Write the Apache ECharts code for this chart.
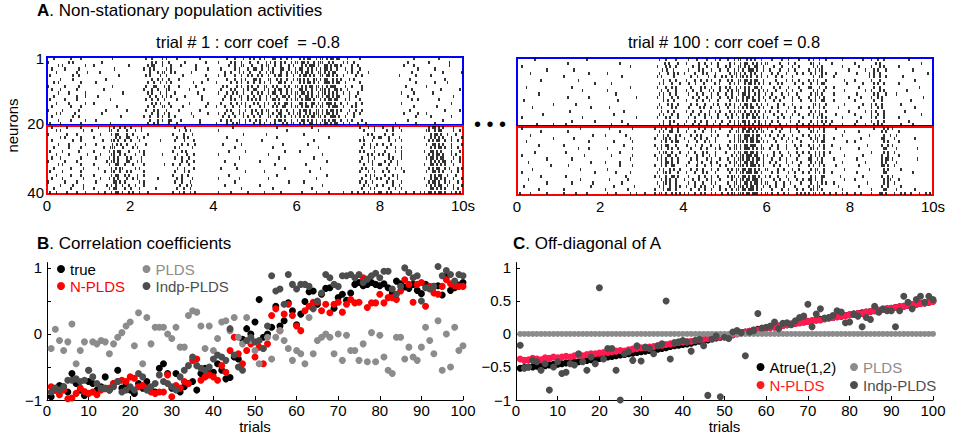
<!DOCTYPE html>
<html><head><meta charset="utf-8">
<script src="https://cdn.jsdelivr.net/npm/echarts@6/dist/echarts.min.js"></script>
<style>
html,body{margin:0;padding:0;background:#fff}
#wrap{position:relative;width:953px;height:442px}
#ca,#cb{position:absolute;left:0;top:0;width:953px;height:442px}
#ca svg path,#ca svg rect{shape-rendering:crispEdges}
</style>
</head><body><div id="wrap"><div id="ca"></div><div id="cb"></div></div>
<script>
// ---- Raster data: one string per neuron, 10 segments (one per second), '|' = spike in that time bin ----
const rasterTrial1 = [
"...|.......|....|... ...........|........ .......|..|....|.|.. ..|..........|...... ......|...|...|..|.| ..|.|...||..|..|.|.. .|.|.||..|.||.|.||.| |...|.....|......... ................|... ........|...........",
"|.........|.|....... ......|............. ..........|.|..|..|. ......|.........|... ..|.....|.|..|...|.. .|...|.|.|..|.|..|.| |.||.|..|.|||..|.|.. ..|.|..|............ .............|...... ...|.........|......",
".....|.|..........|. ..|................| ........|.||...|...| ....|......|........ .......|..|..||...|. ...|.||..|..|...|.|. ..|.|.|||.|..||.|.|| .|....|..|.......... ...........|....|... .............|......",
"..|.....|......|.... ............|....... ......|..|.|.....|.| ...........|.....|.. ...|......|.|...|..| |..|..|.|...||..|..| .||..|.|.|.|.||.|..| ...|..|...|......... ..................|. ......|.............",
"....|.........|....| .....|.............. .........|...|.||..| .|.......|.......... .....|..|...|.|..|.. ..|..|.||...|..|.|.| |.|.||.|..||.|.|.||. ....|.|..|....|..... ...............|.... ..........|........|",
".|..........|..|.... ..............|..... .......|.|....|..|.. .....|..........|... ..|..|....|..|..|.|. .|.|..|..|.||..|..|. .|.||.|.|..||.||.|.| ..|.....|..|........ .........|.......|.. ....|...............",
"......|.....|....... ........|........... ..........|..|.|..|. ...|.............|.. ......|...|..|.|...| |.|...||..|.|..|..|. ||.|.|..||.|.||..|.| .|...|.|............ ..............|..... ...........|........",
"...|.|..........|... ...|................ ........|..|..|..|.| ..........|...|..... .|......|..|.|..|..| ..|.|..|...||.|..|.. .|.|.||.|.|..|||.|.| |..|......|......... .................|.. ......|.....|.......",
"|.......|......|.... ...........|........ .......|...||...|.|. ...|.......|........ ....|.|....|.|..|.|. .|..||..|.|...|.|..| |.|.|.||.||.|.|.|||. ...|..|....|........ ............|....... ..|.................",
"..|...|.......|..... .......|............ ......|...|..|...||. ........|......|.... ...|....|.|...|.|..| |...|.|..|.||..|.|.. .||.|..|.|.|||.|..|| .|..|......|........ ...............|.... .........|........|.",
".....|....|.......|. ................|... ........|.|...|..|.. .|..........|....... ..|...|..|.|..|...|. .|.|..|.||..|..|.|.| |.||.|.|..|.||.|.|.| ..|..|...|.......... ..........|.....|... .....|..............",
"...|..........|...|. ....|............... .........|..|..|.|.| ......|.......|..... .....|..|...||..|..| ..|..|.|..|..||.|..| .|..||.|.||.|.||.|.| |....|..|........... .............|...... ...............|....",
".|......|.....|..... ..........|......... .......|..|..|..|... ..|...........|..... ....|...|.|..|..|.|. |.|..|..||.|...|.|.| |.|.|||.|..|.|.||.|| ...|.|....|......... ...............|..|. ........|...........",
"....|.....|.......|. ..|................. ..........|.|.|...|. ........|........|.. ...|....|..|.|.|...| .|..|.|..|.|..||.|.. .||.|..||.|.|.|||.|. .|..|...|..|........ ..........|......... ..............|.....",
"..|........|....|... .............|...... ........|..|...||..| .....|..........|... .|...|...|..|..|.|.. ..|.|...|.|..||..|.| |.|.||.|.|.||..|.||| ..|...|.|........... ................|... .......|............",
"|......|.......|.... ........|.........|. .......|...|.|...|.. ...|.........|...... ......|.|...|..|..|. |..|.||...|.|..|..|. .|.||.|..||.|.|.||.| .|...|..|..|........ ..............|..... ...........|......|.",
"....|.|......|...... ......|............. ..........|..|..|.|. .........|.......|.. ..|..|...|..|.|...|. .|.|..|.|..||...|.|. ||..|.|.|||.|.||.|.| ....|..|..|......... ...........|......|. ..|.................",
"..|.........|..|.... ...............|.... ......|..|...|.|..|. .|........|......... ....|..|..|...|.|..| ..|...||..|.|.|..|.| .|.|.|.||.||.|..|||. |..|...|............ .................|.. ....|.........|.....",
".....|.....|......|. ...|................ .........|...|.|..|| ....|........|...... ...|..|.|...|..|.|.. |.|..|...|.||.|..|.. |.||.|.|.|..||.|.||. .|..|.|....|........ .............|...... ..........|.........",
".|....|.........|... ..........|......... ........|..|.|....|. ..|..........|...... .|....|..|.||..|...| ..|.|..|.|...|.|.||. .|.|..||.|.|.||.|.|| ..|..|...|...|...... .......|.........|.. ......|.............",
"..|......|......|... ....|....|.|..|.|.. |....|.............. .|....|............. .........|.......... ..........|......... .......|............ ..........|...|..|.. .|....|..|.......... ...|.||.|.|....|....",
"....|.|..........|.. .|.......||..|...|. ..|..|.............. ...|..|.|.......... ..|................. ...............|.... ..........|......... ............|....|.. ...|..|...|......... ..||..|.||.....|..|.",
"|........|....|..... .....|....|.||...|. .|......|........... |....|...|......... ..............|..... .....|.............. ...|................ .............|.|... ..|...|............. ....|.||.|..|...|...",
"......|.|.......|... ..|.........|.|..|| ...|..|............. ..|..|.|........... ......|............. ..........|......... ...............|.... ...........|....|.| |...|....|.......... .|..|.|.|.|...|....|",
"..|.........|...|... ......|...||.|..|.. |...|.........|..... .|...|...|........ ...........|........ ...|................ ........|........... ..........|.|...|... ....|..|..|......... ...|.|.||..|..|..|..",
".....|....|.......|. ...|.......|.|.|..|. ..|....|............ ....|..|..|........ ....|........|...... .............|...... .....|.............. ............|..|..|. .|...|.............. ..|..||.|.|...|....|",
"...|......|.....|... .......|..|||...|... .|.|................ .|.|.....|......... ..........|......... ........|........... ..........|......... ...........|...|.|.. ...|...|..|......... ....|.|.||.|..|..|..",
".|.....|.......|.... ..|......|.|.||...| ....|.|............. |...|.|............ .......|.......|.... ..............|..... .|.................. ..........|.|....|.. ..|....|..|......... .|..||.|.|....|...|.",
"....|.....|........| .....|....||..|.|.. ..|...|........|.... ..|...|..|........ ..|................. ......|............. ............|....... .............|.|..| .|..|.....|......... ...|.|.||.|...|.|...",
"..|...|.........|... ...|.....|.|.|...|. |....|.............. .|..|..|.......... ............|....... ...........|........ ........|........... ...........|..|..|.. ....|.|...|......... ..|.||.|.||....|..|.",
"|.......|.....|..... ........|.||.|...|| ...|.|.............. ....|.|..|........ .....|.............. ..|................. ..............|..... ..........|...|.|... ..|..|..|........... ....|.|.|.||..|...|.",
".....|.|........|... ..|......|..||..|.. .|....|.........|... |..|...|.......... ..........|......... .........|.......... ....|............... ............|...|..| |...|...|........... .|..||.|.|.|...|....",
"...|.......|.....|.. ....|.....|.|.||... ..|.|............... ..|..|...|........ ...|.......|........ ..............|..... ...........|........ ...........|.|..|... ...|...|..|......... ...|.|.||..|.|...|.|",
".|.....|........|... .......|..||..|..|. |.....|............. .|...|.|.......... ...............|.... ....|............... ......|............. ..........|...|..|.. .|..|......|........ ..|..||.|.|...|..|..",
"....|......|....|... ..|.......|.||..|.| ...|..|............. |...|..|........... .......|............ ..........|......... ..............|..... .............|.|.|.. ..|...|.|........... ....|.|.||..|...|...",
"..|....|.........|.. .....|...|.|.|...|. .|.|.........|...... ..|.|....|......... ..|.........|....... ......|............. .........|.......... ...........|...|..|. |...|...|........... .|..|.||.|.|...|...|",
"|.......|.....|..... ...|.......||.|.|.. ....|.|............. .|..|...|.......... ..........|......... ................|... ...|................ ..........|..|..|... ...|..|...|......... ...|.||.|..|.|...|..",
"......|.....|....|.. ........|.|.|..|..| ..|...|............. ...|..|.|......... .....|.............. ..|................. ............|....... ............|.|...|. .|....|..|.......... ..|.|.|.||..|..|...|",
"...|.......|.....|.. ..|......|.||...|.. |...|.......|....... ..|..|..|.......... .............|...... ........|........... .......|............ ...........|...|.|.. ....|..|..|......... ....||.|.|.|...|.|..",
".|..|....|....|...|. ....|..|..|.||.|..| .|..|...|........... |..|.|..|.|........ ..|.....|.......|... ....|.......|....... ..|......|.....|.... ..|...|..|..|.|..|.| |..|.|...|..|...|..| .|.||.|.||.|..|.|.|."
];
const rasterTrial100 = [
"........|........... .............|...... .................... ........|..|....|... ..|...|....|...|.|.. .|..|.||..|.|.|..|.. ..|....|..|....|.... |.|..|..|.......|... ......|...|..|..|... ........|...........",
".................... ....|............... .........|.......... ..........|.|...|.. .|.....|..|..|..|... ..|.|..|.||..|.|.|.| |.....|...|..|...... .||..|.....|........ ..|.........|.|..... ..............|.....",
"..|................. .................... ..............|..... .......|...|.|..|... ....|..|...|....|... |.|...||.|.|..||..|. ...|...|....|..|.... ..|.|.|.........|... ....|.....|...|.|... ...|................",
"..............|..... .......|............ .................... .........|.|..|.... ..|....|.|...|...|.. .|..|.|.|..|||.|..|. .|....|...|..|...... |..|.||............| .......|...|.|...|.. ..........|.........",
"......|............. ..............|..... ...|................ ........|...|..|.|.. |....|...|.|...|.... ..|.||.|.|..|.|..|.. ..|..|...|....|..|.. .|.|..|.|....|...... ...|.....|.|..|..... .................|..",
".................... ..|................. ..........|......... .......|.|.....|.... ...|..|....|..|..|. |..|.|.||.|.|..|.|.. |...|..|....|....... ..|..||.....|....... .........|.|..|..|.. .....|..............",
"...........|........ .........|.......... .................... ..........|..|..|... .|...|..|..|.|...|.. .|.|..||.||.|.||..|. ....|....|..|..|.... |.|.|...|........|.. ..|.......|...|..... ...........|........",
".................... .................|.. .....|.............. ........|.|...|...|. ..|..|...|....|.|.. ..|.|.|..|.||.|.|.|. .|...|.|.....|...|.. .|..|.||..........|. ......|....|.|..|... ...|................",
"....|............... ......|............. ..............|..... .......|...|..|.|... ...|....|.|..|...|.. |.|..|.|.|.|..||.|.. ...|..|...|....|.... ||...|..|...|....... ....|......|..|..... .............|......",
".................... ...........|........ ...|................ .........|..|...|... .|..|...|...|.|..|.. .|.|.||..|.|.|..|.|. |...|....|..|...|... ..|.|..|.........|.. .......|..|...|.|... .......|............",
"..........|......... .................... .......|............ ........|.|..|..|... ..|...|..|...|..|... |..|..|.||.|..|.|..| ..|....|..|...|..... .|.||.|.....|....... ...|.......|.|...|.. ..|.................",
".................... ....|.........|..... .................|.. .......|..|...|..|.. ....|..|...|.|...|.. .|.|.|..|.||.|..|.|. .|..|...|...|..|.... |..|.|.|...........| .....|....|..|.|.... ...............|....",
"...|................ .................... ........|........... ..........|.|..|.... .|....|..|..|...|... ..|..||.|.|..||.|..| ...|..|.....|...|... .|.|..||....|....... ..|........|...|.... .........|..........",
".................|.. ........|........... .................... ........|...|.|..|.. ...|..|...|...|.|... |.|.|..|.||.|..|.|.. |....|..|...|....... ..||.|..|........|.. ......|...|.|..|.... ....|...............",
".......|............ ...............|.... ....|............... .......|.|....|.|... ..|....|.|..|...|.. .|..|.|.|.|.||..|.|. ..|..|....|..|..|... |.|..|.|......|..... ....|.....|..|.|.... ...........|........",
".................... .....|.............. ...........|........ .........|..|..|.... .|..|...|...|..|.|.. ..|.|.||.|..|.|.|..| .|...|...|...|...... .|.|.|..|..........| .......|..|.|...|... ......|.............",
"............|....... .................... ......|............. ........|.|...|..|.. ...|...|..|.|...|... |..|.|..|.||.|.|..|. ...|...|....|..|.... |.|..||......|...... ..|.......|..|..|... ..............|.....",
"..|................. ...........|........ .................|.. .......|...|.|...|.. ..|..|....|..|..|... .|.|..|.|.|..||.|.|. |....|..|..|.....|.. ..|.|.|.|.......|... .....|....|.|...|... ...|................",
".................... ......|..........|.. ..........|......... ..........|..|.|.... .|...|..|..|...|..|. ..|.|.|.||.|..|.|..| ..|..|.....|...|.... .|..|.|.|..|........ ...|......|..|..|... ........|...........",
".........|.......|.. ...|................ .....|.......|...... ........|.|..|...|.. |...|..|...|..|..|.. .|..|.||.|.|.|..||.| .|....|..|....|..|.. |.|.|..|..|.....|... ..|....|...|.|.|.... ....|.....|.........",
"..|................. ..........|......... ....|..........|.... ......|..|.|..|..|.. ..|....|..|..|...|.. ...|..|.||.||.|.||.. |...|..|...|..|..... |.|..|.|.....|...... ...........|....|.|. |...................",
"...........|........ ....|............... .........|.......... ........|.|..||..|.. .|...|...|...|.|.... ..|..||.|.||.|.|.||. ..|...|....|...|.... .||.|..|.........|.. ....|..........|.|.. ...|................",
"......|............. ................|... ..|.........|....... .......|..|.|...|.|. ...|..|.|....|..|... .|..|.||.|||.|.||..| .|...|..|...|....|.. |..|.|.|........|... .........|......|..| ..|.................",
".................|.. .......|............ ..............|..... ......|...||.|..|... |....|..|..|...|.... ....|.||.||.||.|.|.. ...|...|..|...|..... .|.||..|....|....... .....|.........||... .|.........|........",
"....|............... ..............|..... ......|........|.... .........|.|..|.||.. ..|...|...|.|..|.... ..|.|.|||.|.||.||.|. |...|....|..|...|... ..|.|.||..........|. ..|.............|.|. ...|................",
"..........|......... ..|................. ...........|........ ......|..|.||...|... .|...|..|...|...|.. .|..||.|.||.|||..|.. ..|..|...|...|..|... |.|..|.|...|........ ........|......|..|. |...................",
".................... .........|....|..... ...|...........|.... .......|.|..|.|..|.. ...|....|..|...|.|.. ..|.||.|.|||.|.|.||. .|...|...|....|..... .||.|..|.......|.... ....|...........||.. ..|.........|.......",
"........|........... ...|................ .........|.......... ........|.||..|...|. ..|..|...|.|...|.... |...|.||.||.||.|.|.. ...|..|...|...|..|.. |..|.|.|..|......... ..........|.....|.|. .|..................",
"..|................. ............|....... .....|.........|.... ......|..|..||..|... .|....|..|..|..|.... ...|.|.||.|||.||..|. |..|...|...|...|.... .|.|.|.|.........|.. ......|........|..|. ...|................",
"..............|..... ......|............. ..............|..... .......|.|.|..|..|.. ...|..|....|.|...|.. .|..|.|||.||.|.||.|. ..|...|..|....|..... ||..|.|.....|....... ...|...........|.||. |...........|.......",
".....|.............. ...............|.... ..|......|.......... .........|.||.|..|.. ..|...|.|...|..|... ..|.||.|.||.||.|..|. .|..|....|..|...|... .|.|.||.........|... .......|.......|.|.. ..|.................",
"................|... ....|.............. .........|.....|.... ......|..|.|..||.... .|....|...|..|...|.. |...|.|||.|.|||.|.|. ...|..|...|....|.... |.|..|.|.....|...... ....|..........||.|. .|..................",
".......|............ ..........|......... ...|................ ........|.|..|.|..|. ...|..|..|...|..|... .|.|.||.||.||.|.|..| |....|..|...|..|.... .|.||..|.........|.. .........|......|.|. ....|...............",
"..|................. .................|.. .......|......|..... .......|..||.|...|.. .|...|...|.|...|.... ..|..|.||.|||.||.|.. ..|..|....|..|...|.. |..|.|.|...|........ ...|............||.. ..........|.........",
"...........|........ ...|................ ............|....... ......|.|..|..||.|.. ..|....|..|..|..|... .|.||.|.||.|.||.|..| .|...|...|...|...... .|.|..||.......|.... ......|........|..|. |...................",
".....|.............. ..........|......... ....|........|...... .........|.|.|..|... |...|..|...|.|...|.. ...|.|.||.||.|||.|.. ...|..|...|...|..|.. ||.|..|..........|.. ..|.............|.|| ...|................",
"..............|..... ......|.........|... ..........|......... .......|..||.|..|... ..|..|...|...|.|.... .|..||.|.||.|.||.|.| |...|...|..|....|... .|..|.|.|...|....... ........|.......|.|. .|..................",
"...|................ ...............|.... ......|.........|... ........|.|..|..|.|. .|...|..|.|...|..|.. ..|.|.|||.|.||.|..|. .|..|...|....|...... |.|.||........|..... ....|..........|..|. ....|...............",
"..........|......... ..|................. ..|..........|...... ......|...|.||..|... ...|...|..|..|...|.. |..|.||.||.|||.|.|.. ..|....|..|...|..|.. .||.|.|.........|... ..........|.....||.. ..|........|........",
".|....|.......|..... ..|.....|....|...... ...|...|......|..|.. .|....|.||.|..|.|.|. |.|..|..|.|..|.|..|. .|.||.|||.||.|||.|.| |.|..|..|.|...|.|.|. |.||.|.|..|..|..|.|. ..|..|....|...||.|.. .|..|.|..|...|..|.|."
];

// ---- Panel B: correlation coefficients per trial ----
const trials = Array.from({length: 100}, (_, i) => i + 1);
const bTrue = [-0.95,-0.85,-0.78,-0.8,-0.88,-0.6,-0.75,-0.85,-0.93,-0.72,-0.75,-0.85,-0.8,-0.65,-0.85,-0.75,-0.55,-0.82,-0.78,-0.85,
-0.9,-0.75,-0.82,-0.72,-0.85,-0.88,-0.52,-0.45,-0.6,-0.82,-0.6,-0.88,-0.8,-0.75,-0.72,-0.85,-0.6,-0.52,-0.6,-0.58,
-0.45,-0.55,-0.68,-0.66,-0.35,-0.38,-0.08,0.08,0.0,0.18,0.52,-0.05,0.0,0.1,0.42,0.12,0.2,0.47,0.35,0.14,
0.3,0.49,0.64,0.65,0.45,0.6,0.69,0.7,0.39,0.55,0.6,0.51,0.62,0.75,0.78,0.73,0.75,0.78,0.75,0.73,
0.76,0.7,0.62,0.8,0.76,0.71,0.69,0.75,0.66,0.61,0.75,0.7,0.72,0.73,0.59,0.88,0.66,0.7,0.74,0.78];
const bNPLDS = [-0.8,-0.85,-0.92,-0.85,-0.98,-0.97,-0.9,-0.82,-0.87,-0.9,-0.88,-0.92,-0.85,-0.83,-0.82,-0.75,-0.72,-0.7,-0.72,-0.65,
-0.67,-0.8,-0.78,-0.82,-0.88,-0.9,-0.88,-0.88,-0.62,-0.95,-0.78,-0.82,-0.72,-0.75,-0.4,-0.38,-0.7,-0.65,-0.62,-0.65,
-0.7,-0.48,-0.58,-0.25,-0.05,-0.3,-0.45,-0.25,-0.15,-0.35,-0.2,-0.45,-0.15,0.28,0.38,0.05,0.3,0.45,0.28,0.12,
0.05,0.35,0.42,0.48,0.48,0.35,0.45,0.32,0.45,0.48,0.33,0.45,0.52,0.47,0.48,0.85,0.4,0.47,0.47,0.6,
0.47,0.55,0.55,0.52,0.65,0.82,0.75,0.48,0.75,0.78,0.42,0.72,0.62,0.6,0.72,0.82,0.76,0.73,0.72,0.72];
const bPLDS = [-0.22,0.07,-0.1,-0.25,-0.12,0.15,-0.45,-0.25,-0.12,-0.55,-0.12,-0.15,-0.1,-0.12,-0.3,-0.15,-0.05,0.02,0.12,0.18,
-0.18,0.32,-0.45,0.25,-0.15,0.1,0.1,0.1,0.0,-0.07,0.1,-0.2,-0.2,0.28,0.35,0.33,0.12,-0.22,0.12,-0.25,
-0.07,0.18,0.2,0.05,0.25,-0.05,-0.15,0.25,-0.1,-0.25,-0.45,-0.22,-0.05,-0.38,-0.05,0.05,-0.1,-0.22,-0.4,-0.25,
-0.3,-0.45,0.25,-0.3,-0.1,-0.05,0.0,-0.05,-0.3,0.0,-0.4,-0.02,-0.25,-0.25,-0.4,-0.15,-0.42,0.02,-0.42,-0.02,
-0.35,-0.55,-0.6,-0.05,-0.05,-0.38,-0.2,-0.35,-0.4,-0.2,0.1,-0.1,-0.3,0.2,-0.55,0.0,-0.5,0.1,-0.25,-0.18];
const bIndp = [-0.88,-0.82,-0.85,-0.8,-0.7,-0.7,-0.68,-0.72,-0.7,-0.55,-0.65,-0.75,-0.82,-0.82,-0.85,-0.8,-0.72,-0.88,-0.85,-0.8,
-0.85,-0.6,-0.65,-0.85,-0.8,-0.75,-0.62,-0.72,-0.75,-0.8,-0.85,-0.65,-0.55,-0.48,-0.35,-0.48,-0.52,-0.55,-0.5,-0.38,
-0.32,-0.35,-0.4,0.08,-0.32,-0.5,-0.55,-0.1,-0.05,-0.12,-0.1,-0.22,0.12,0.88,0.65,0.68,0.45,0.9,0.75,0.68,
0.75,0.75,0.72,0.38,0.5,0.62,0.9,0.85,0.75,0.72,0.88,0.88,0.9,0.85,0.9,0.78,0.83,0.88,0.92,0.85,
0.95,0.95,0.68,0.6,0.72,1.0,0.93,0.85,0.88,0.5,0.7,0.68,0.72,1.02,0.88,0.96,0.9,0.8,0.9,0.88];

// ---- Panel C: off-diagonal of A per trial ----
const cTrue = [-0.52,-0.51,-0.5,-0.5,-0.49,-0.48,-0.48,-0.47,-0.46,-0.46,-0.45,-0.44,-0.43,-0.43,-0.42,-0.41,-0.4,-0.39,-0.38,-0.37,
-0.36,-0.35,-0.34,-0.33,-0.32,-0.31,-0.3,-0.29,-0.28,-0.27,-0.26,-0.25,-0.24,-0.23,-0.22,-0.21,-0.19,-0.18,-0.17,-0.16,
-0.15,-0.14,-0.12,-0.11,-0.1,-0.09,-0.07,-0.06,-0.05,-0.03,-0.02,-0.01,0.01,0.02,0.03,0.04,0.06,0.07,0.08,0.09,
0.1,0.11,0.12,0.13,0.14,0.15,0.16,0.17,0.18,0.19,0.2,0.21,0.22,0.23,0.24,0.25,0.26,0.27,0.28,0.29,
0.3,0.31,0.32,0.33,0.34,0.35,0.36,0.37,0.38,0.39,0.4,0.41,0.42,0.43,0.44,0.45,0.46,0.47,0.48,0.5];
const cNPLDS = [-0.38,-0.4,-0.39,-0.37,-0.38,-0.39,-0.36,-0.37,-0.35,-0.36,-0.35,-0.34,-0.35,-0.33,-0.32,-0.33,-0.31,-0.3,-0.3,-0.29,
-0.28,-0.28,-0.27,-0.26,-0.25,-0.26,-0.24,-0.23,-0.22,-0.21,-0.21,-0.2,-0.19,-0.18,-0.17,-0.16,-0.15,-0.14,-0.13,-0.12,
-0.12,-0.11,-0.1,-0.09,-0.08,-0.07,-0.06,-0.05,-0.04,-0.03,-0.02,-0.01,0.0,0.02,0.03,0.04,0.05,0.06,0.07,0.09,
0.1,0.1,0.12,0.13,0.14,0.15,0.16,0.17,0.18,0.19,0.2,0.21,0.21,0.23,0.24,0.25,0.26,0.27,0.28,0.29,
0.3,0.31,0.31,0.33,0.34,0.35,0.36,0.37,0.38,0.39,0.4,0.41,0.42,0.43,0.44,0.45,0.46,0.47,0.48,0.49];
const cPLDS = [0,0,0,0,0,0,0,0,0,0,0,0,0,0,0,0,0,0,0,0,0,0,0,0,0,0,0,0,0,0,0,0,0,0,0,0,0,0,0,0,0,0,0,0,0,0,0,0,0,0,
0,0,0,0,0,0,0,0,0,0,0,0,0,0,0,0,0,0,0,0,0,0,0,0,0,0,0,0,0,0,0,0,0,0,0,0,0,0,0,0,0,0,0,0,0,0,0,0,0,0];
const cIndp = [-0.17,-0.52,-0.5,-0.4,-0.42,-0.55,-0.45,-0.85,-0.5,-0.42,-0.6,-0.58,-0.45,-0.47,-0.3,-0.42,-0.55,-0.35,-0.45,0.7,
-0.38,-0.22,-0.22,-0.55,-1.0,-0.3,-0.27,-0.4,-0.18,-0.41,-0.2,-0.22,-0.3,-0.18,-0.15,0.5,-0.38,-0.13,-0.12,-0.1,
-0.12,-0.26,-0.1,-0.08,-0.18,-0.93,-0.08,-0.03,-0.95,-0.05,-0.07,0.03,0.05,0.02,-0.33,0.03,0.05,0.31,0.09,0.1,
0.12,0.18,0.08,0.16,0.17,0.14,0.2,0.25,0.27,0.45,0.11,0.3,0.38,0.24,0.25,0.28,0.35,0.33,0.17,0.18,
0.3,0.27,0.11,0.25,0.22,0.42,0.33,0.38,0.35,0.35,0.11,0.35,0.57,0.48,0.38,0.52,0.57,0.48,0.57,0.52];

// ---- Tick labels ----
const rasterTicks = [0, 2, 4, 6, 8, 10];
const neuronTicks = [1, 20, 40];
const trialTicks = [0, 10, 20, 30, 40, 50, 60, 70, 80, 90, 100];
const bTicks = [-1, 0, 1];
const cTicks = [-1, -0.5, 0, 0.5, 1];

function decodeRaster(rows) {
  const pts = [];
  rows.forEach((row, i) => {
    row.split(' ').forEach((seg, k) => {
      for (let j = 0; j < seg.length; j++) {
        if (seg[j] === '|') pts.push([k + (j + 0.5) / seg.length, i + 1]);
      }
    });
  });
  return pts;
}
const pair = arr => trials.map((t, i) => [t, arr[i]]);
const fmtNum = v => (v < 0 ? '\u2212' + String(-v) : String(v));

const FONT = "'Liberation Sans', Arial, sans-serif";
const BLACK = '#000000', RED = '#ff0000', CRED = '#ff1a50', LGRAY = '#8c8c8c', DGRAY = '#4d4d4d';

const titleStyle = (fs) => ({fontSize: fs, fontWeight: 'normal', color: '#000', fontFamily: FONT,
  rich: {b: {fontSize: fs, fontWeight: 'bold', color: '#000', fontFamily: FONT}}});

// ---------- Panel A (raster) chart ----------
const rasterX = gi => ({
  gridIndex: gi, type: 'value', min: 0, max: 10, interval: 2,
  axisLine: {show: false}, axisTick: {show: false}, splitLine: {show: false},
  axisLabel: {fontSize: 15, color: '#000', margin: 4, fontFamily: FONT,
    formatter: v => rasterTicks.includes(v) ? (v === 10 ? '10s' : String(v)) : ''}
});
const rasterY = (gi, showLabels) => ({
  gridIndex: gi, type: 'value', inverse: true, min: 0.5, max: 40.5, interval: 0.5,
  name: showLabels ? 'neurons' : '', nameLocation: 'middle', nameRotate: 90, nameGap: 27,
  nameTextStyle: {fontSize: 15, color: '#000', fontFamily: FONT},
  axisLine: {show: false}, axisTick: {show: false}, splitLine: {show: false},
  axisLabel: {show: showLabels, fontSize: 15, color: '#000', margin: 3, fontFamily: FONT,
    formatter: v => neuronTicks.includes(v) ? String(v) : ''}
});
const boxArea = (y0, y1, color) => [
  {xAxis: 0, yAxis: y0, itemStyle: {color: 'rgba(0,0,0,0)', borderColor: color, borderWidth: 2}},
  {xAxis: 10, yAxis: y1}
];
const rasterSeries = (name, gi, rows) => ({
  name, type: 'scatter', xAxisIndex: gi, yAxisIndex: gi, clip: false,
  symbol: 'rect', symbolSize: [1.7, 3.1], itemStyle: {color: '#000'},
  data: decodeRaster(rows), silent: true,
  markArea: {silent: true, data: [boxArea(0.5, 20.25, '#0000ff'), boxArea(20.75, 40.5, '#ff0000')]}
});

const chartA = echarts.init(document.getElementById('ca'), null, {renderer: 'svg'});
chartA.setOption({
  animation: false,
  textStyle: {fontFamily: FONT},
  title: [
    {text: '{b|A}. Non-stationary population activities', left: 37, top: 2, padding: 0, textStyle: titleStyle(17)},
    {text: 'trial # 1 : corr coef  = -0.8', left: 248, top: 33, padding: 0, textAlign: 'center', textStyle: titleStyle(16.5)},
    {text: 'trial # 100 : corr coef = 0.8', left: 724, top: 33, padding: 0, textAlign: 'center', textStyle: titleStyle(16.5)}
  ],
  grid: [
    {left: 47, top: 57, width: 416, height: 137},
    {left: 517, top: 58, width: 416, height: 137}
  ],
  xAxis: [rasterX(0), rasterX(1)],
  yAxis: [rasterY(0, true), rasterY(1, false)],
  graphic: [
    {type: 'text', x: 490, y: 124, silent: true,
      style: {text: '\u2022 \u2022 \u2022', fontSize: 20, fontFamily: FONT, fill: '#000', align: 'center', verticalAlign: 'middle'}}
  ],
  series: [
    rasterSeries('spikes trial 1', 0, rasterTrial1),
    rasterSeries('spikes trial 100', 1, rasterTrial100)
  ]
});

// ---------- Panels B and C chart ----------
const trialX = gi => ({
  gridIndex: gi, type: 'value', min: 0, max: 100, interval: 10,
  name: 'trials', nameLocation: 'middle', nameGap: 16,
  nameTextStyle: {fontSize: 15, color: '#000', fontFamily: FONT},
  axisLine: {onZero: false, lineStyle: {color: '#000', width: 1}},
  axisTick: {inside: true, length: 4, lineStyle: {color: '#000'}},
  splitLine: {show: false},
  axisLabel: {fontSize: 15, color: '#000', margin: 3, fontFamily: FONT,
    formatter: v => trialTicks.includes(v) ? String(v) : ''}
});
const valueY = (gi, ticks) => ({
  gridIndex: gi, type: 'value', min: -1, max: 1.08, interval: 0.5,
  axisLine: {onZero: false, lineStyle: {color: '#000', width: 1}},
  axisTick: {inside: true, length: 4, lineStyle: {color: '#000'}, customValues: [-1, -0.5, 0, 0.5, 1]},
  splitLine: {show: false},
  axisLabel: {fontSize: 15, color: '#000', margin: 5, fontFamily: FONT, customValues: ticks,
    formatter: v => ticks.includes(v) ? fmtNum(v) : ''}
});
const dots = (name, gi, arr, color, size) => ({
  name, type: 'scatter', xAxisIndex: gi, yAxisIndex: gi, symbol: 'circle',
  symbolSize: size, itemStyle: {color, opacity: 1}, data: pair(arr)
});
const legendBase = {orient: 'vertical', itemGap: 0, itemWidth: 8, itemHeight: 8, padding: 0,
  icon: 'circle', selectedMode: false};
const lt = (color, lh) => ({color, fontSize: 15, lineHeight: lh, fontFamily: FONT});

const chartB = echarts.init(document.getElementById('cb'), null, {renderer: 'svg'});
chartB.setOption({
  animation: false,
  textStyle: {fontFamily: FONT},
  title: [
    {text: '{b|B}. Correlation coefficients', left: 37, top: 235, padding: 0, textStyle: titleStyle(17)},
    {text: '{b|C}. Off-diagonal of A', left: 513, top: 235, padding: 0, textStyle: titleStyle(17)}
  ],
  legend: [
    Object.assign({left: 57, top: 260.5, textStyle: lt(BLACK, 17),
      data: [{name: 'true', textStyle: lt(BLACK, 17)}, {name: 'N-PLDS', textStyle: lt(RED, 17)}]}, legendBase),
    Object.assign({left: 142.5, top: 260.5, textStyle: lt(BLACK, 17),
      data: [{name: 'PLDS', textStyle: lt(LGRAY, 17)}, {name: 'Indp-PLDS', textStyle: lt(DGRAY, 17)}]}, legendBase),
    Object.assign({left: 756.5, top: 358, textStyle: lt(BLACK, 18),
      data: [{name: 'Atrue(1,2)', textStyle: lt(BLACK, 18)}, {name: 'N-PLDS ', textStyle: lt('#ff1a1a', 18), itemStyle: {color: '#ff1a1a'}}]}, legendBase),
    Object.assign({left: 850, top: 358, textStyle: lt(BLACK, 18),
      data: [{name: 'PLDS ', textStyle: lt(LGRAY, 18)}, {name: 'Indp-PLDS ', textStyle: lt(DGRAY, 18)}]}, legendBase)
  ],
  grid: [
    {left: 47, top: 262.6, width: 416, height: 137.4},
    {left: 516, top: 262.6, width: 417, height: 137.4}
  ],
  xAxis: [trialX(0), trialX(1)],
  yAxis: [valueY(0, bTicks), valueY(1, cTicks)],
  series: [
    dots('true', 0, bTrue, BLACK, 7),
    dots('N-PLDS', 0, bNPLDS, RED, 7),
    dots('PLDS', 0, bPLDS, LGRAY, 7),
    dots('Indp-PLDS', 0, bIndp, DGRAY, 7),
    dots('Atrue(1,2)', 1, cTrue, BLACK, 7),
    dots('N-PLDS ', 1, cNPLDS, CRED, 7),
    dots('PLDS ', 1, cPLDS, LGRAY, 6),
    dots('Indp-PLDS ', 1, cIndp, DGRAY, 7)
  ]
});
</script></body></html>
